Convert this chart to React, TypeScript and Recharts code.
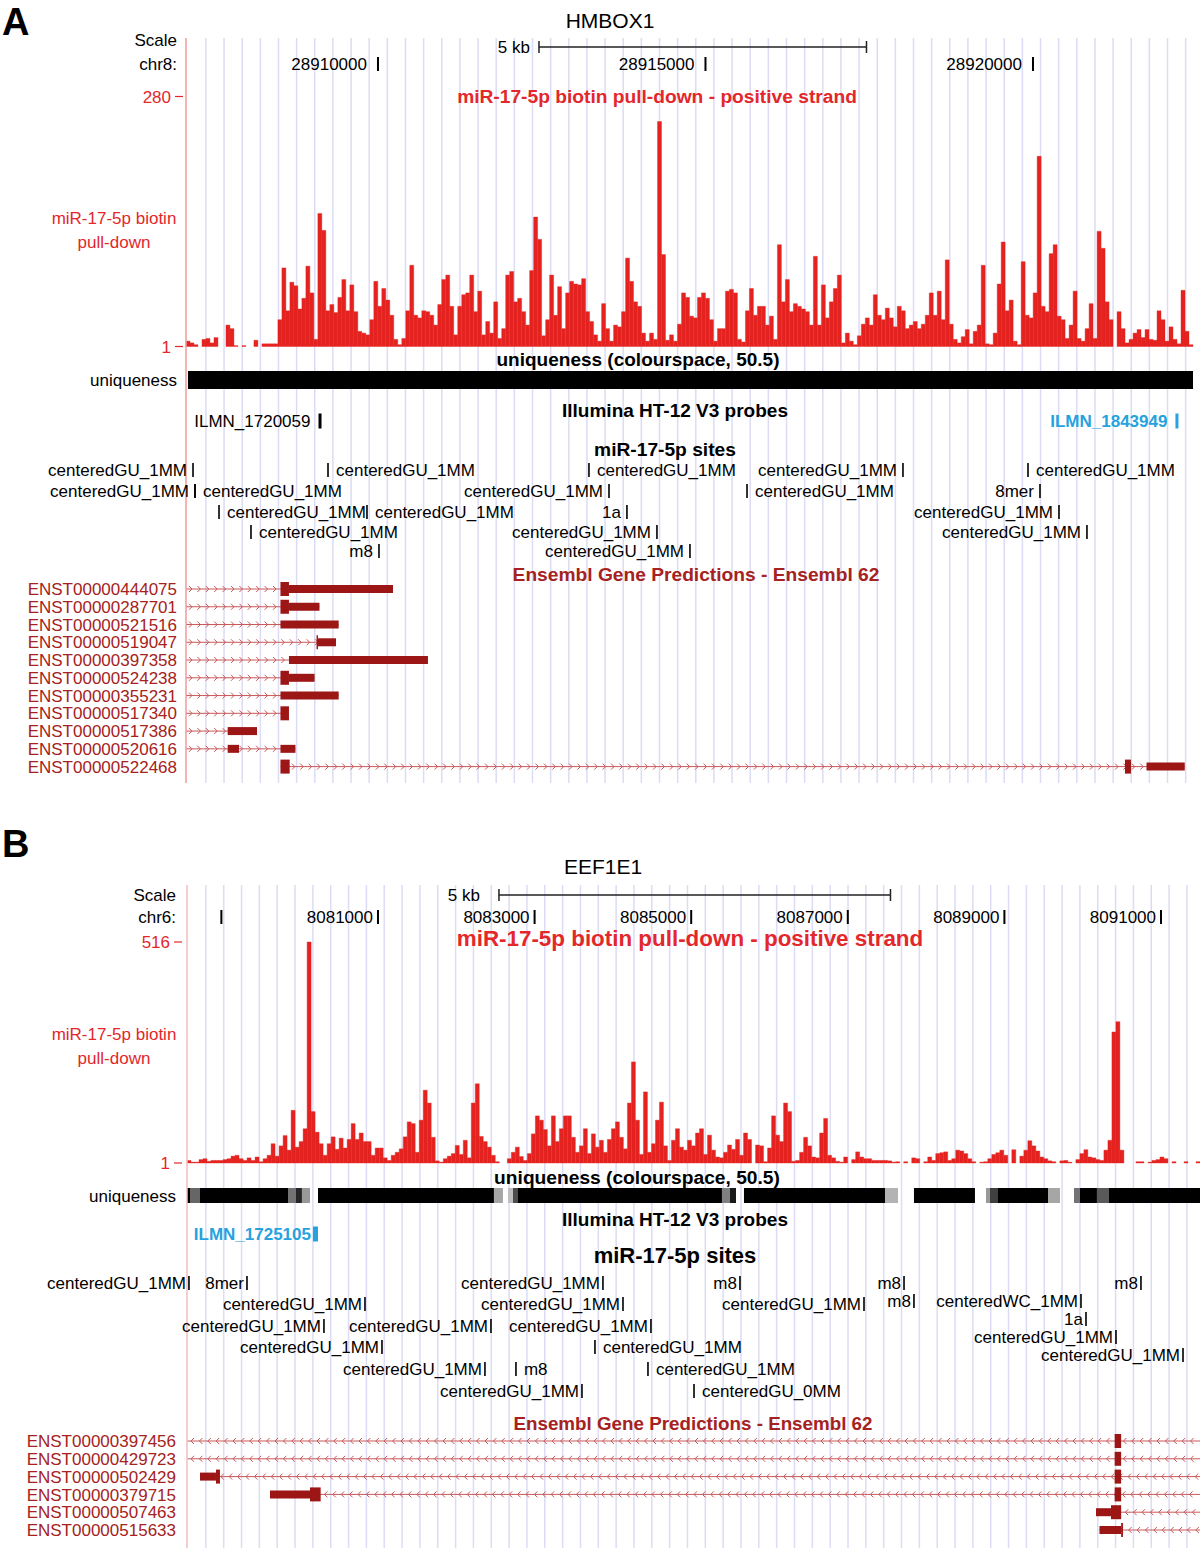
import React from 'react';
import { ComposedChart, Bar, XAxis, YAxis, Scatter, ReferenceArea, ReferenceLine, CartesianGrid } from 'recharts';

const FONT = '"Liberation Sans", Arial, Helvetica, sans-serif';
const SIGNAL_RED = '#e42320';
const TRACK_RED = '#e3272b';
const GENE_RED = '#9d1616';
const GENE_LABEL = '#a52221';
const INTRON_RED = '#c9585a';
const PROBE_BLUE = '#26a2de';
const GUIDE_BLUE = '#dcdcf4';

// ---------- Panel A: HMBOX1, chr8 ----------
const A_START = 28907069;
const A_END = 28922443;

// read-count bins (4 px each) of the biotin pull-down track
const A_SIGNAL = [
  6, 4, 2, 0, 8, 9, 4, 10, 0, 0,
  24, 20, 1, 0, 1, 0, 0, 7, 0, 3,
  3, 3, 3, 30, 88, 40, 72, 68, 42, 54,
  90, 60, 8, 149, 130, 40, 47, 38, 55, 75,
  40, 69, 39, 17, 15, 13, 30, 73, 45, 65,
  52, 35, 8, 2, 9, 40, 91, 35, 32, 40,
  39, 35, 24, 47, 75, 80, 45, 13, 45, 58,
  60, 80, 39, 62, 13, 28, 15, 50, 9, 20,
  80, 84, 50, 54, 39, 24, 85, 145, 120, 12,
  30, 80, 35, 67, 20, 60, 73, 70, 69, 76,
  39, 28, 13, 6, 48, 20, 6, 24, 22, 39,
  99, 73, 50, 45, 15, 6, 15, 8, 252, 103,
  7, 13, 6, 25, 60, 55,
  34, 32, 55, 60, 54, 30, 6, 20, 20, 62,
  64, 60, 8, 5, 40, 65, 35, 45, 45, 24,
  34, 8, 114, 50, 75, 39, 48, 45, 42, 39,
  24, 101, 24, 69, 32, 50, 65, 80, 4, 15,
  6, 2, 12, 25, 32, 24, 58, 35, 30, 43,
  32, 22, 45, 40, 20, 24, 28, 20, 25, 35,
  60, 35, 62, 30, 97, 25, 8, 4, 11, 19,
  3, 17, 24, 91, 3, 2, 15, 70, 117, 40,
  52, 6, 2, 95, 35, 32, 60, 213, 45, 39,
  104, 114, 34, 30, 9, 24, 62, 9, 6, 20,
  48, 9, 129, 110, 50, 30, 0, 39, 20, 4,
  8, 15, 19, 10, 19, 8, 7, 40, 30, 6,
  22, 8, 3, 63, 17, 2,
];

const A_TICKS = [28910000, 28915000, 28920000];
const A_TICK_LABELS = ['28910000', '28915000', '28920000'];
const A_SCALE_BAR = [28912458, 28917458];

const A_UNIQUENESS = [{ start: 28907099, end: 28922443, score: 1 }];

const A_PROBES = [
  { name: 'ILMN_1720059', start: 28909092, end: 28909138, detected: false },
  { name: 'ILMN_1843949', start: 28922175, end: 28922221, detected: true },
];

const A_SITES = [
  { name: 'centeredGU_1MM', pos: 28907176, lane: 0, side: 'L' },
  { name: 'centeredGU_1MM', pos: 28909237, lane: 0, side: 'R' },
  { name: 'centeredGU_1MM', pos: 28913221, lane: 0, side: 'R' },
  { name: 'centeredGU_1MM', pos: 28918015, lane: 0, side: 'L' },
  { name: 'centeredGU_1MM', pos: 28919924, lane: 0, side: 'R' },
  { name: 'centeredGU_1MM', pos: 28907206, lane: 1, side: 'L' },
  { name: 'centeredGU_1MM', pos: 28907206, lane: 1, side: 'R' },
  { name: 'centeredGU_1MM', pos: 28913527, lane: 1, side: 'L' },
  { name: 'centeredGU_1MM', pos: 28915634, lane: 1, side: 'R' },
  { name: '8mer', pos: 28920107, lane: 1, side: 'L' },
  { name: 'centeredGU_1MM', pos: 28907573, lane: 2, side: 'R' },
  { name: 'centeredGU_1MM', pos: 28909832, lane: 2, side: 'R' },
  { name: '1a', pos: 28913801, lane: 2, side: 'L' },
  { name: 'centeredGU_1MM', pos: 28920397, lane: 2, side: 'L' },
  { name: 'centeredGU_1MM', pos: 28908061, lane: 3, side: 'R' },
  { name: 'centeredGU_1MM', pos: 28914259, lane: 3, side: 'L' },
  { name: 'centeredGU_1MM', pos: 28920824, lane: 3, side: 'L' },
  { name: 'm8', pos: 28910015, lane: 4, side: 'L' },
  { name: 'centeredGU_1MM', pos: 28914763, lane: 4, side: 'L' },
];

// exons: [start, end, coding(1)/utr(0)]
const A_TRANSCRIPTS = [
  { name: 'ENST00000444075', txStart: A_START, txEnd: 28910229, exons: [[28908511, 28908641, 1], [28908641, 28910229, 0]] },
  { name: 'ENST00000287701', txStart: A_START, txEnd: 28909107, exons: [[28908511, 28908641, 1], [28908641, 28909107, 0]] },
  { name: 'ENST00000521516', txStart: A_START, txEnd: 28909400, exons: [[28908511, 28909400, 0]] },
  { name: 'ENST00000519047', txStart: A_START, txEnd: 28909359, exons: [[28909069, 28909359, 0], [28909062, 28909084, 1]] },
  { name: 'ENST00000397358', txStart: A_START, txEnd: 28910763, exons: [[28908641, 28910763, 0]] },
  { name: 'ENST00000524238', txStart: A_START, txEnd: 28909032, exons: [[28908511, 28908641, 1], [28908641, 28909032, 0]] },
  { name: 'ENST00000355231', txStart: A_START, txEnd: 28909400, exons: [[28908511, 28909400, 0]] },
  { name: 'ENST00000517340', txStart: A_START, txEnd: 28908641, exons: [[28908511, 28908641, 1]] },
  { name: 'ENST00000517386', txStart: A_START, txEnd: 28908153, exons: [[28907705, 28908153, 0]] },
  { name: 'ENST00000520616', txStart: A_START, txEnd: 28908740, exons: [[28907705, 28907878, 0], [28908511, 28908740, 0]] },
  { name: 'ENST00000522468', txStart: 28908511, txEnd: 28922317, exons: [[28908511, 28908652, 1], [28921404, 28921496, 1], [28921733, 28922317, 0]] },
];

// ---------- Panel B: EEF1E1, chr6 ----------
const B_START = 8078561;
const B_END = 8091498;

const B_SIGNAL = [
  6, 2, 2, 8, 10, 4, 6, 6, 6, 8,
  10, 16, 18, 10, 6, 12, 6, 14, 3, 10,
  18, 45, 16, 40, 64, 30, 123, 37, 50, 80,
  516, 120, 72, 45, 18, 45, 61, 32, 58, 35,
  55, 92, 55, 70, 50, 50, 18, 35, 35, 12,
  6, 18, 25, 33, 61, 96, 92, 25, 100, 170,
  140, 60, 5, 2, 10, 16, 22, 41, 20, 53,
  12, 140, 185, 62, 50, 37, 18, 3, 0, 0,
  10, 25, 37, 15, 6, 22, 68, 110, 100, 78,
  40, 110, 50, 80, 110, 110, 60, 25, 40, 80,
  22, 68, 37, 53, 25, 55, 80, 96, 60, 33,
  140, 236, 100, 20, 166, 25, 45, 100, 142, 40,
  6, 53, 80, 37, 30, 53,
  40, 70, 80, 20, 65, 30, 14, 12, 25, 42,
  32, 55, 18, 70, 55, 0, 42, 40, 3, 35,
  110, 65, 50, 140, 120, 4, 6, 25, 60, 40,
  14, 12, 70, 104, 18, 12, 4, 2, 14, 0,
  8, 26, 14, 10, 10, 6, 6, 6, 6, 5,
  2, 3, 0, 3, 0, 12, 10, 0, 3, 14,
  6, 22, 24, 26, 6, 10, 30, 28, 22, 10,
  3, 0, 2, 3, 10, 20, 24, 30, 18, 0,
  31, 0, 16, 30, 52, 40, 28, 14, 10, 5,
  3, 0, 5, 6, 2, 0, 8, 22, 31, 14,
  12, 8, 6, 30, 53, 306, 330, 30, 0, 0,
  0, 3, 3, 0, 2, 6, 8, 14, 10, 0,
  3, 0, 0, 3, 0, 0, 3,
];

const B_TICKS = [8079000, 8081000, 8083000, 8085000, 8087000, 8089000, 8091000];
const B_TICK_LABELS = ['', '8081000', '8083000', '8085000', '8087000', '8089000', '8091000'];
const B_SCALE_BAR = [8082545, 8087545];

const B_UNIQUENESS = [
  { start: B_START, end: 8078599, score: 1 },
  { start: 8078599, end: 8078727, score: 0.6 },
  { start: 8078727, end: 8079851, score: 1 },
  { start: 8079851, end: 8079953, score: 0.55 },
  { start: 8079953, end: 8080029, score: 0.85 },
  { start: 8080029, end: 8080132, score: 0.4 },
  { start: 8080234, end: 8082481, score: 1 },
  { start: 8082481, end: 8082596, score: 0.35 },
  { start: 8082660, end: 8082724, score: 0.25 },
  { start: 8082724, end: 8082788, score: 0.7 },
  { start: 8082788, end: 8085393, score: 1 },
  { start: 8085393, end: 8085495, score: 0.5 },
  { start: 8085495, end: 8085572, score: 0.9 },
  { start: 8085674, end: 8087475, score: 1 },
  { start: 8087475, end: 8087641, score: 0.3 },
  { start: 8087845, end: 8088624, score: 1 },
  { start: 8088765, end: 8088816, score: 0.4 },
  { start: 8088816, end: 8088918, score: 0.75 },
  { start: 8088918, end: 8089557, score: 1 },
  { start: 8089557, end: 8089710, score: 0.35 },
  { start: 8089889, end: 8089965, score: 0.55 },
  { start: 8089965, end: 8090182, score: 1 },
  { start: 8090182, end: 8090336, score: 0.65 },
  { start: 8090336, end: B_END, score: 1 },
];

const B_PROBES = [{ name: 'ILMN_1725105', start: 8080170, end: 8080234, detected: true }];

const B_SITES = [
  { name: 'centeredGU_1MM', pos: 8078586, lane: 0, side: 'L' },
  { name: '8mer', pos: 8079327, lane: 0, side: 'L' },
  { name: 'centeredGU_1MM', pos: 8083873, lane: 0, side: 'L' },
  { name: 'm8', pos: 8085623, lane: 0, side: 'L' },
  { name: 'm8', pos: 8087718, lane: 0, side: 'L' },
  { name: 'm8', pos: 8090744, lane: 0, side: 'L' },
  { name: 'centeredGU_1MM', pos: 8080834, lane: 1, side: 'L' },
  { name: 'centeredGU_1MM', pos: 8084129, lane: 1, side: 'L' },
  { name: 'centeredGU_1MM', pos: 8087207, lane: 1, side: 'L' },
  { name: 'm8', pos: 8087845, lane: 6, side: 'L' },
  { name: 'centeredWC_1MM', pos: 8089978, lane: 6, side: 'L' },
  { name: 'centeredGU_1MM', pos: 8080310, lane: 2, side: 'L' },
  { name: 'centeredGU_1MM', pos: 8082443, lane: 2, side: 'L' },
  { name: 'centeredGU_1MM', pos: 8084486, lane: 2, side: 'L' },
  { name: '1a', pos: 8090042, lane: 7, side: 'L' },
  { name: 'centeredGU_1MM', pos: 8081051, lane: 3, side: 'L' },
  { name: 'centeredGU_1MM', pos: 8083771, lane: 3, side: 'R' },
  { name: 'centeredGU_1MM', pos: 8090425, lane: 8, side: 'L' },
  { name: 'centeredGU_1MM', pos: 8082366, lane: 4, side: 'L' },
  { name: 'm8', pos: 8082762, lane: 4, side: 'R' },
  { name: 'centeredGU_1MM', pos: 8084448, lane: 4, side: 'R' },
  { name: 'centeredGU_1MM', pos: 8091281, lane: 9, side: 'L' },
  { name: 'centeredGU_1MM', pos: 8083605, lane: 5, side: 'L' },
  { name: 'centeredGU_0MM', pos: 8085036, lane: 5, side: 'R' },
];

const B_TRANSCRIPTS = [
  { name: 'ENST00000397456', txStart: B_START, txEnd: B_END, exons: [[8090408, 8090491, 1]] },
  { name: 'ENST00000429723', txStart: B_START, txEnd: B_END, exons: [[8090408, 8090491, 1]] },
  { name: 'ENST00000502429', txStart: 8078727, txEnd: B_END, exons: [[8078727, 8078931, 0], [8078931, 8078982, 1], [8090408, 8090491, 1]] },
  { name: 'ENST00000379715', txStart: 8079621, txEnd: B_END, exons: [[8079621, 8080132, 0], [8080132, 8080268, 1], [8090408, 8090491, 1]] },
  { name: 'ENST00000507463', txStart: 8090170, txEnd: B_END, exons: [[8090170, 8090361, 0], [8090361, 8090491, 1]] },
  { name: 'ENST00000515633', txStart: 8090214, txEnd: B_END, exons: [[8090214, 8090491, 0], [8090491, 8090514, 1]] },
];

// ---------- layout for each panel ----------
const PANEL_A = {
  top: 0, height: 783, plotTop: 38, plotLeft: 186, marginRight: 7,
  start: A_START, end: A_END, chrom: 'chr8',
  signal: A_SIGNAL, sigMax: 280, sigTopY: 96.5, sigBaseY: 346.5,
  ticks: A_TICKS, tickLabels: A_TICK_LABELS, scaleBar: A_SCALE_BAR,
  uniqueness: A_UNIQUENESS, probes: A_PROBES, sites: A_SITES, transcripts: A_TRANSCRIPTS,
  scaleLabelY: 40, chromY: 64, scaleY: 47, trackLabelY: [218, 242],
  uniqY: 371, uniqH: 18, probeY: 421,
  laneY: [470, 491, 512, 532, 551],
  geneY0: 589, geneStep: 17.76, strand: 1,
  labelRight: 177, tickGap: 11, scaleGap: 9, siteGapL: 6, siteGapR: 8, probeGap: 8,
  guideOffset: 304, guideStep: 277, axisColor: '#f29a9a',
};

const PANEL_B = {
  top: 810, height: 738, plotTop: 75, plotLeft: 187, marginRight: 0,
  start: B_START, end: B_END, chrom: 'chr6',
  signal: B_SIGNAL, sigMax: 516, sigTopY: 132, sigBaseY: 353,
  ticks: B_TICKS, tickLabels: B_TICK_LABELS, scaleBar: B_SCALE_BAR,
  uniqueness: B_UNIQUENESS, probes: B_PROBES, sites: B_SITES, transcripts: B_TRANSCRIPTS,
  scaleLabelY: 85, chromY: 107, scaleY: 85, trackLabelY: [224, 248],
  uniqY: 378, uniqH: 15, probeY: 424,
  laneY: [473, 494, 516, 537, 559, 581, 491, 509, 527, 545],
  geneY0: 631, geneStep: 17.8, strand: -1,
  labelRight: 176, tickGap: 5, scaleGap: 19, siteGapL: 3, siteGapR: 8, probeGap: 2,
  guideOffset: 241, guideStep: 227.8, axisColor: '#f3bcbc',
};

const TITLES = [
  { x: 2, y: 21.5, text: 'A', size: 38, bold: true, anchor: 'start', fill: '#000' },
  { x: 610, y: 20, text: 'HMBOX1', size: 21 },
  { x: 657, y: 96, text: 'miR-17-5p biotin pull-down - positive strand', size: 19.2, bold: true, fill: TRACK_RED },
  { x: 638, y: 359, text: 'uniqueness (colourspace, 50.5)', size: 19, bold: true },
  { x: 675, y: 410, text: 'Illumina HT-12 V3 probes', size: 19, bold: true },
  { x: 665, y: 449, text: 'miR-17-5p sites', size: 19.2, bold: true },
  { x: 696, y: 574, text: 'Ensembl Gene Predictions - Ensembl 62', size: 19.2, bold: true, fill: GENE_LABEL },
  { x: 2, y: 843, text: 'B', size: 38, bold: true, anchor: 'start', fill: '#000' },
  { x: 603, y: 866, text: 'EEF1E1', size: 21 },
  { x: 690, y: 938, text: 'miR-17-5p biotin pull-down - positive strand', size: 22.4, bold: true, fill: TRACK_RED },
  { x: 637, y: 1177, text: 'uniqueness (colourspace, 50.5)', size: 19.2, bold: true },
  { x: 675, y: 1219, text: 'Illumina HT-12 V3 probes', size: 19, bold: true },
  { x: 675, y: 1255, text: 'miR-17-5p sites', size: 22, bold: true },
  { x: 693, y: 1423, text: 'Ensembl Gene Predictions - Ensembl 62', size: 18.8, bold: true, fill: GENE_LABEL },
];

function grey(score: number) {
  const c = Math.round(255 * (1 - score));
  return `rgb(${c},${c},${c})`;
}

function intronShape(strand: number) {
  return (p: any) => {
    const { x, y, width, height } = p;
    const cy = y + height / 2;
    let d = '';
    for (let cx = x + 5; cx < x + width - 3; cx += 8.4) {
      d += strand > 0
        ? `M${cx - 2},${cy - 3}L${cx + 1},${cy}L${cx - 2},${cy + 3}`
        : `M${cx + 2},${cy - 3}L${cx - 1},${cy}L${cx + 2},${cy + 3}`;
    }
    return (
      <g>
        <line x1={x} x2={x + width} y1={cy} y2={cy} stroke={INTRON_RED} strokeWidth={1} />
        <path d={d} fill="none" stroke={INTRON_RED} strokeWidth={1} />
      </g>
    );
  };
}

function Track(c: any) {
  const bins = c.signal.map((v: number, i: number) => ({ bin: i, v }));
  const plotW = 1200 - c.plotLeft - c.marginRight;
  const barPx = plotW / c.signal.length;
  const pxPerUnit = (c.sigBaseY - c.sigTopY) / c.sigMax;
  const sigDomain = [-(c.height - c.sigBaseY) / pxPerUnit, c.sigMax + (c.sigTopY - c.plotTop) / pxPerUnit];

  // light guide lines every few hundred bases, drawn as the chart's background grid
  const guidePx: number[] = [];
  for (let g = c.start + c.guideOffset; g < c.end - 40; g += c.guideStep) {
    guidePx.push(c.plotLeft + ((g - c.start) / (c.end - c.start)) * plotW);
  }

  const leftItems = [
    { y: c.scaleLabelY, text: 'Scale', color: '#000' },
    { y: c.chromY, text: c.chrom + ':', color: '#000' },
    { y: c.sigTopY, text: String(c.sigMax), color: TRACK_RED, dash: true },
    { y: c.trackLabelY[0], text: 'miR-17-5p biotin', color: TRACK_RED, center: true },
    { y: c.trackLabelY[1], text: 'pull-down', color: TRACK_RED, center: true },
    { y: c.sigBaseY, text: '1', color: TRACK_RED, dash: true },
    { y: c.uniqY + c.uniqH / 2, text: 'uniqueness', color: '#000' },
    ...c.transcripts.map((t: any, k: number) => ({ y: c.geneY0 + k * c.geneStep, text: t.name, color: GENE_LABEL })),
  ];

  const leftTick = (p: any) => {
    const v = p.payload ? p.payload.value : null;
    const item: any = leftItems.find((d) => Math.abs(d.y - v) < 0.01);
    if (!item) return <g />;
    const y = p.y;
    if (item.dash) {
      return (
        <g>
          <text x={c.labelRight - 6} y={y} dy="0.36em" textAnchor="end" fontSize={17} fontFamily={FONT} fill={item.color}>{item.text}</text>
          <line x1={c.labelRight - 2} x2={c.labelRight + 6} y1={y} y2={y} stroke={item.color} strokeWidth={1.2} />
        </g>
      );
    }
    return (
      <text x={item.center ? 114 : c.labelRight} y={y} dy="0.36em" textAnchor={item.center ? 'middle' : 'end'}
        fontSize={17} fontFamily={FONT} fill={item.color}>{item.text}</text>
    );
  };

  const siteData = c.sites.map((s: any) => ({ ...s, y: c.laneY[s.lane] }));
  const tickData = c.ticks.map((pos: number, i: number) => ({ pos, y: c.chromY, label: c.tickLabels[i] }));
  const scaleData = [{ pos: c.scaleBar[0], y: c.scaleY, label: '5 kb' }];
  const probeData = c.probes.map((p: any) => ({ ...p, pos: p.start, y: c.probeY }));

  const siteShape = (p: any) => {
    const { cx, cy, payload } = p;
    const left = payload.side === 'L';
    return (
      <g>
        <rect x={cx - 0.8} y={cy - 7} width={1.6} height={14} fill="#000" />
        <text x={left ? cx - c.siteGapL : cx + c.siteGapR} y={cy} dy="0.36em" textAnchor={left ? 'end' : 'start'}
          fontSize={17} fontFamily={FONT} fill="#000">{payload.name}</text>
      </g>
    );
  };

  const tickShape = (p: any) => {
    const { cx, cy, payload } = p;
    return (
      <g>
        <rect x={cx - 1} y={cy - 7} width={2} height={14} fill="#000" />
        {payload.label ? (
          <text x={cx - c.tickGap} y={cy} dy="0.36em" textAnchor="end" fontSize={17} fontFamily={FONT} fill="#000">{payload.label}</text>
        ) : null}
      </g>
    );
  };

  const scaleShape = (p: any) => (
    <text x={p.cx - c.scaleGap} y={p.cy} dy="0.36em" textAnchor="end" fontSize={17} fontFamily={FONT} fill="#000">{p.payload.label}</text>
  );

  const probeShape = (p: any) => (
    <text x={p.cx - c.probeGap} y={p.cy} dy="0.36em" textAnchor="end" fontSize={17} fontFamily={FONT}
      fontWeight={p.payload.detected ? 700 : 400} fill={p.payload.detected ? PROBE_BLUE : '#000'}>{p.payload.name}</text>
  );

  const sy = c.scaleY;
  return (
    <div style={{ position: 'absolute', left: 0, top: c.top }}>
      <ComposedChart width={1200} height={c.height} data={bins}
        margin={{ top: c.plotTop, right: c.marginRight, bottom: 0, left: 0 }} barCategoryGap="0%" barGap={0}>
        <XAxis xAxisId="bins" dataKey="bin" type="category" hide />
        <XAxis xAxisId="g" dataKey="pos" type="number" domain={[c.start, c.end]} hide />
        <YAxis yAxisId="sig" type="number" domain={sigDomain} hide />
        <YAxis yAxisId="row" dataKey="y" type="number" domain={[c.plotTop, c.height]} reversed width={c.plotLeft}
          ticks={leftItems.map((d) => d.y)} interval={0} tick={leftTick} tickLine={false}
          axisLine={{ stroke: c.axisColor, strokeWidth: 1.5 }} />

        <CartesianGrid xAxisId="g" yAxisId="row" horizontal={false} vertical verticalPoints={guidePx}
          stroke={GUIDE_BLUE} strokeWidth={1.5} />

        <Bar xAxisId="bins" yAxisId="sig" dataKey="v" fill={SIGNAL_RED} stroke={SIGNAL_RED} strokeWidth={0.4}
          barSize={barPx - 0.02} isAnimationActive={false} />

        {c.uniqueness.map((u: any, i: number) => (
          <ReferenceArea key={`u${i}`} xAxisId="g" yAxisId="row" ifOverflow="visible" x1={u.start} x2={u.end}
            y1={c.uniqY} y2={c.uniqY + c.uniqH} fill={grey(u.score)} fillOpacity={1} stroke="none" />
        ))}

        <ReferenceLine xAxisId="g" yAxisId="row" ifOverflow="visible"
          segment={[{ x: c.scaleBar[0], y: sy }, { x: c.scaleBar[1], y: sy }]} stroke="#222" strokeWidth={1.5} />
        <ReferenceLine xAxisId="g" yAxisId="row" ifOverflow="visible"
          segment={[{ x: c.scaleBar[0], y: sy - 6 }, { x: c.scaleBar[0], y: sy + 6 }]} stroke="#222" strokeWidth={1.5} />
        <ReferenceLine xAxisId="g" yAxisId="row" ifOverflow="visible"
          segment={[{ x: c.scaleBar[1], y: sy - 6 }, { x: c.scaleBar[1], y: sy + 6 }]} stroke="#222" strokeWidth={1.5} />

        {c.probes.map((p: any, i: number) => (
          <ReferenceArea key={`p${i}`} xAxisId="g" yAxisId="row" ifOverflow="visible" x1={p.start} x2={p.end}
            y1={c.probeY - 7.5} y2={c.probeY + 7.5} fill={p.detected ? PROBE_BLUE : '#000'} fillOpacity={1} stroke="none" />
        ))}

        {c.transcripts.map((t: any, k: number) => {
          const y = c.geneY0 + k * c.geneStep;
          return (
            <ReferenceArea key={`i${k}`} xAxisId="g" yAxisId="row" ifOverflow="visible" x1={t.txStart} x2={t.txEnd}
              y1={y - 4} y2={y + 4} shape={intronShape(c.strand)} />
          );
        })}
        {c.transcripts.map((t: any, k: number) => {
          const y = c.geneY0 + k * c.geneStep;
          return t.exons.map((e: number[], j: number) => (
            <ReferenceArea key={`e${k}-${j}`} xAxisId="g" yAxisId="row" ifOverflow="visible" x1={e[0]} x2={e[1]}
              y1={y - (e[2] ? 7 : 4)} y2={y + (e[2] ? 7 : 4)} fill={GENE_RED} fillOpacity={1} stroke="none" />
          ));
        })}

        <Scatter xAxisId="g" yAxisId="row" data={tickData} shape={tickShape} isAnimationActive={false} />
        <Scatter xAxisId="g" yAxisId="row" data={scaleData} shape={scaleShape} isAnimationActive={false} />
        <Scatter xAxisId="g" yAxisId="row" data={probeData} shape={probeShape} isAnimationActive={false} />
        <Scatter xAxisId="g" yAxisId="row" data={siteData} shape={siteShape} isAnimationActive={false} />
      </ComposedChart>
    </div>
  );
}

export default function App() {
  return (
    <div style={{ position: 'absolute', left: 0, top: 0, width: 1200, height: 1548, background: '#fff', overflow: 'hidden' }}>
      <Track {...PANEL_A} />
      <Track {...PANEL_B} />
      <svg width={1200} height={1548} style={{ position: 'absolute', left: 0, top: 0, pointerEvents: 'none' }}>
        {TITLES.map((t, i) => (
          <text key={i} x={t.x} y={t.y} dy="0.36em" textAnchor={t.anchor || 'middle'} fontSize={t.size}
            fontWeight={t.bold ? 700 : 400} fontFamily={FONT} fill={t.fill || '#000'}>{t.text}</text>
        ))}
      </svg>
    </div>
  );
}
